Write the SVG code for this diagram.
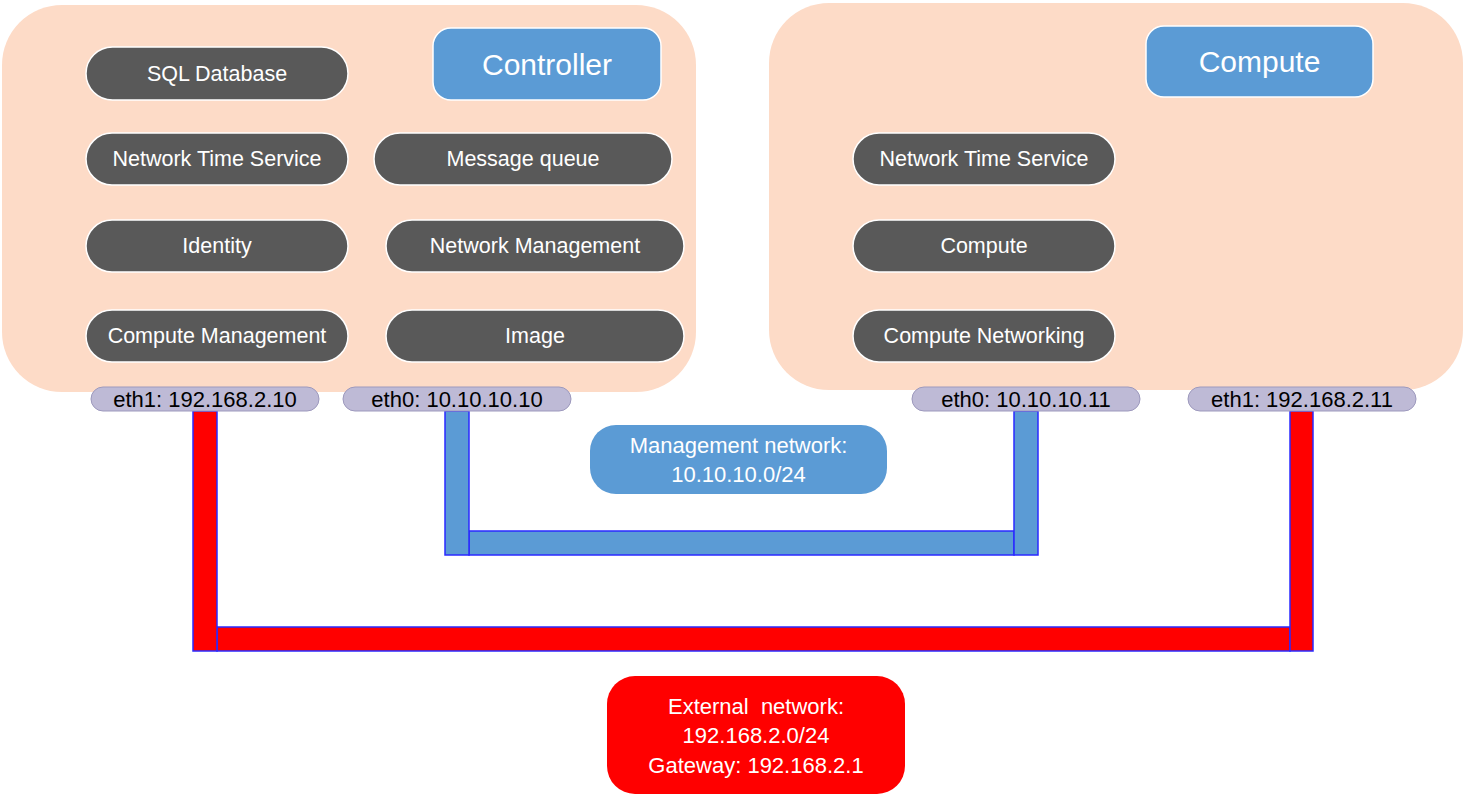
<svg xmlns="http://www.w3.org/2000/svg" width="1465" height="796" viewBox="0 0 1465 796">
<style>
.host{fill:#FDDBC7;stroke:none}
.title{fill:#5B9BD5;stroke:#FFFFFF;stroke-width:1.5}
.titletxt{font-family:"Liberation Sans",Arial,sans-serif;font-size:30px;fill:#FFFFFF;text-anchor:middle;dominant-baseline:central}
.svc{fill:#595959;stroke:#FFFFFF;stroke-width:1.5}
.svctxt{font-family:"Liberation Sans",Arial,sans-serif;font-size:21.5px;fill:#FFFFFF;text-anchor:middle;dominant-baseline:central}
.nic{fill:#BEBAD6;stroke:#9D99BD;stroke-width:1}
.nictxt{font-family:"Liberation Sans",Arial,sans-serif;font-size:22px;fill:#000000;text-anchor:middle;dominant-baseline:central}
.red{fill:#FF0000;stroke:#2A2AFF;stroke-width:1.5}
.blue{fill:#5B9BD5;stroke:#2A2AFF;stroke-width:1.5}
.nettxt{font-family:"Liberation Sans",Arial,sans-serif;font-size:22px;fill:#FFFFFF;text-anchor:middle;dominant-baseline:central}
</style>

<g id="controller-host">
<rect class="host" x="2" y="5" width="694" height="387" rx="60"/>
</g>
<g id="compute-host">
<rect class="host" x="769" y="3" width="694" height="387" rx="60"/>
</g>

<g id="connectors">
<rect class="blue" x="469" y="531" width="545" height="24"/>
<rect class="blue" x="445" y="411" width="24" height="144"/>
<rect class="blue" x="1014" y="411" width="24" height="144"/>
<rect class="red" x="217" y="627" width="1073" height="24"/>
<rect class="red" x="193" y="411" width="24" height="240"/>
<rect class="red" x="1290" y="411" width="23" height="240"/>
</g>

<g id="controller-title">
<rect class="title" x="433" y="28" width="228" height="72" rx="18"/>
<text class="titletxt" x="547" y="64">Controller</text>
</g>
<g id="compute-title">
<rect class="title" x="1146" y="26" width="227" height="71" rx="18"/>
<text class="titletxt" x="1259.5" y="61.5">Compute</text>
</g>

<g id="svc-sql">
<rect class="svc" x="86" y="47" width="262" height="53" rx="26.5"/>
<text class="svctxt" x="217" y="73.5">SQL Database</text>
</g>
<g id="svc-ntp-ctrl">
<rect class="svc" x="86" y="133" width="262" height="52" rx="26"/>
<text class="svctxt" x="217" y="159">Network Time Service</text>
</g>
<g id="svc-identity">
<rect class="svc" x="86" y="220" width="262" height="52" rx="26"/>
<text class="svctxt" x="217" y="246">Identity</text>
</g>
<g id="svc-compute-mgmt">
<rect class="svc" x="86" y="310" width="262" height="52" rx="26"/>
<text class="svctxt" x="217" y="336">Compute Management</text>
</g>
<g id="svc-mq">
<rect class="svc" x="374" y="133" width="298" height="52" rx="26"/>
<text class="svctxt" x="523" y="159">Message queue</text>
</g>
<g id="svc-net-mgmt">
<rect class="svc" x="386" y="220" width="298" height="52" rx="26"/>
<text class="svctxt" x="535" y="246">Network Management</text>
</g>
<g id="svc-image">
<rect class="svc" x="386" y="310" width="298" height="52" rx="26"/>
<text class="svctxt" x="535" y="336">Image</text>
</g>

<g id="svc-ntp-comp">
<rect class="svc" x="853" y="133" width="262" height="52" rx="26"/>
<text class="svctxt" x="984" y="159">Network Time Service</text>
</g>
<g id="svc-compute">
<rect class="svc" x="853" y="220" width="262" height="52" rx="26"/>
<text class="svctxt" x="984" y="246">Compute</text>
</g>
<g id="svc-compute-net">
<rect class="svc" x="853" y="310" width="262" height="52" rx="26"/>
<text class="svctxt" x="984" y="336">Compute Networking</text>
</g>

<g id="nic-ctrl-eth1">
<rect class="nic" x="91" y="387" width="228" height="24" rx="12"/>
<text class="nictxt" x="205" y="399">eth1: 192.168.2.10</text>
</g>
<g id="nic-ctrl-eth0">
<rect class="nic" x="343" y="387" width="228" height="24" rx="12"/>
<text class="nictxt" x="457" y="399">eth0: 10.10.10.10</text>
</g>
<g id="nic-comp-eth0">
<rect class="nic" x="912" y="387" width="228" height="24" rx="12"/>
<text class="nictxt" x="1026" y="399">eth0: 10.10.10.11</text>
</g>
<g id="nic-comp-eth1">
<rect class="nic" x="1188" y="387" width="228" height="24" rx="12"/>
<text class="nictxt" x="1302" y="399">eth1: 192.168.2.11</text>
</g>

<g id="mgmt-network">
<rect x="590" y="425" width="297" height="69" rx="26" fill="#5B9BD5"/>
<text class="nettxt" x="738.5" y="445">Management network:</text>
<text class="nettxt" x="738.5" y="474">10.10.10.0/24</text>
</g>
<g id="ext-network">
<rect x="607" y="676" width="298" height="118" rx="28" fill="#FF0000"/>
<text class="nettxt" x="756" y="706" xml:space="preserve">External  network:</text>
<text class="nettxt" x="756" y="735">192.168.2.0/24</text>
<text class="nettxt" x="756" y="765">Gateway: 192.168.2.1</text>
</g>
</svg>
